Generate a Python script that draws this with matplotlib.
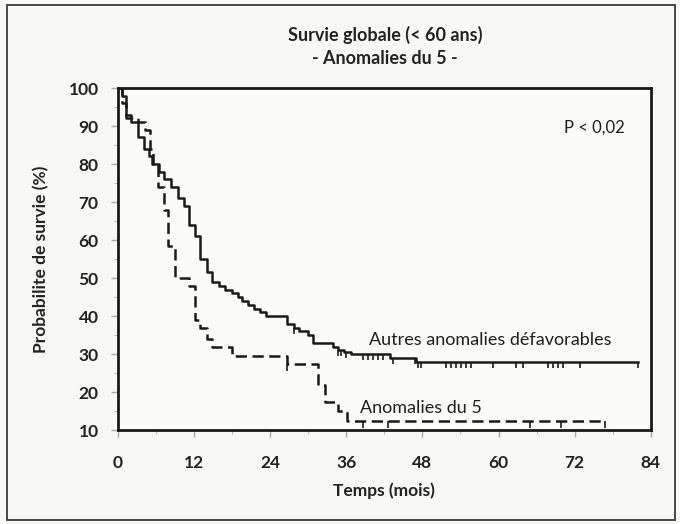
import numpy as np
import matplotlib.pyplot as plt
from matplotlib.patches import Rectangle
from matplotlib.ticker import MultipleLocator

plt.rcParams['font.family'] = ['Lato', 'DejaVu Sans']

# Kaplan-Meier steps (months, % survival)
autres_t = [0, 0.6, 1.3, 2.0, 3.1, 4.1, 4.9, 5.4, 6.4, 7.3, 8.3, 9.4, 10.4, 11.2,
            12.1, 12.9, 14.0, 14.9, 15.9, 16.9, 17.9, 19.0, 19.6, 20.5, 21.4, 22.4,
            23.4, 26.6, 27.7, 28.5, 29.9, 30.8, 33.9, 34.7, 35.7, 36.8, 42.9, 47.0, 82.0]
autres_s = [100, 98, 93, 91, 87, 84, 82, 80, 78, 76, 74, 71, 69, 64,
            61, 55, 51.5, 49, 48, 47, 46, 45, 44, 43, 42, 41,
            40, 38, 37, 36, 35, 33, 32, 31, 30.5, 30, 29, 28, 28]
autres_cens = [27.7, 34.7, 35.2, 35.9, 38.7, 39.4, 40.2, 41.0, 41.8, 43.3, 46.8, 47.3,
               47.8, 51.7, 52.5, 53.3, 54.1, 54.9, 55.7, 59.1, 62.8, 63.9, 67.8, 68.6,
               69.4, 70.2, 72.8, 82.0]

ano5_t = [0, 0.6, 1.3, 3.1, 4.2, 5.0, 5.5, 6.3, 7.3, 7.9, 9.0, 11.2, 12.1, 12.9,
          14.0, 14.9, 17.9, 26.6, 31.6, 32.6, 34.7, 36.1, 76.8]
ano5_s = [100, 96, 92, 91, 89, 84, 80, 74, 68, 58.5, 50, 48, 39, 37,
          34, 32, 29.5, 27.5, 22, 17.5, 15, 12.5, 12.5]
ano5_cens = [26.6, 38.7, 42.6, 64.9, 69.9, 76.8]

x_ticks = [0, 12, 24, 36, 48, 60, 72, 84]
y_ticks = [10, 20, 30, 40, 50, 60, 70, 80, 90, 100]

fig = plt.figure(figsize=(6.8, 5.24), dpi=100)
fig.patch.set_facecolor('#f8f8f6')
fig.patches.append(Rectangle((0.011, 0.008), 0.982, 0.983, transform=fig.transFigure,
                             fill=False, edgecolor='#3a3a3a', linewidth=1.3))

ax = fig.add_axes([0.1735, 0.179, 0.7835, 0.653])
ax.set_facecolor('#fbfbfa')

ax.step(autres_t, autres_s, where='post', color='#1a1a1a', linewidth=1.8)
ax.step(ano5_t, ano5_s, where='post', color='#1a1a1a', linewidth=1.8,
        linestyle=(0, (4.5, 2.2)))


def level_at(ts, ss, c):
    i = np.searchsorted(ts, c, side='right') - 1
    return ss[max(i, 0)]


for c in autres_cens:
    y = level_at(autres_t, autres_s, c)
    ax.vlines(c, y - 1.6, y, color='#1a1a1a', linewidth=1.2)
for c in ano5_cens:
    y = level_at(ano5_t, ano5_s, c)
    ax.vlines(c, y - 1.8, y, color='#1a1a1a', linewidth=1.2)

ax.set_xlim(0, 84)
ax.set_ylim(10, 100)
ax.set_xticks(x_ticks)
ax.set_yticks(y_ticks)
ax.xaxis.set_minor_locator(MultipleLocator(6))
ax.yaxis.set_minor_locator(MultipleLocator(5))
ax.tick_params(axis='both', which='major', direction='out', length=5, width=1,
               color='#aaaaaa', labelsize=12.5)
ax.tick_params(axis='x', which='major', pad=13)
ax.tick_params(axis='y', which='major', pad=9)
ax.tick_params(axis='both', which='minor', direction='out', length=3, width=0.8,
               color='#bbbbbb')
for lab in ax.get_xticklabels() + ax.get_yticklabels():
    lab.set_fontweight('bold')
    lab.set_color('#222222')
for sp in ax.spines.values():
    sp.set_linewidth(2)
    sp.set_color('#1a1a1a')

ax.set_xlabel('Temps (mois)', fontsize=12.5, fontweight='bold', color='#222222', labelpad=8)
ax.set_ylabel('Probabilite de survie (%)', fontsize=12.5, fontweight='bold', color='#222222',
              labelpad=14)

ax.text(39.5, 33.6, 'Autres anomalies défavorables', fontsize=13, color='#1e1e1e',
        va='center', ha='left')
ax.text(38.1, 15.8, 'Anomalies du 5', fontsize=13, color='#1e1e1e', va='center', ha='left')
ax.text(70.3, 89.7, 'P < 0,02', fontsize=12, color='#1e1e1e', va='center', ha='left')

fig.text(0.566, 0.933, 'Survie globale (< 60 ans)', fontsize=13, fontweight='bold',
         color='#222222', ha='center', va='center')
fig.text(0.566, 0.889, '- Anomalies du 5 -', fontsize=13, fontweight='bold',
         color='#222222', ha='center', va='center')

fig.savefig('out.png', dpi=100, facecolor=fig.get_facecolor())
